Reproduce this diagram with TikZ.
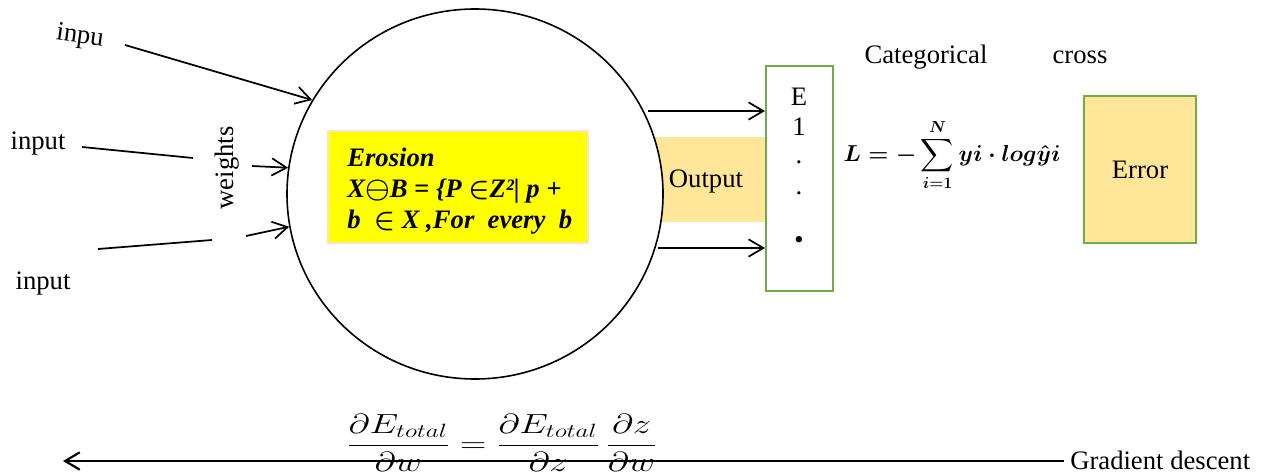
\documentclass[tikz,border=0pt]{standalone}
\usepackage{amsmath}
\usepackage{graphicx}
\usepackage{fontspec}
\setmainfont{Liberation Serif}
\usetikzlibrary{positioning,arrows.meta,shapes.geometric}
\definecolor{boxgreen}{HTML}{70AD47}
\definecolor{boxsand}{HTML}{FFE699}
\definecolor{erosionyellow}{HTML}{FFFF00}
\definecolor{erosionrim}{HTML}{FBE3C6}
\newsavebox{\lossbox}
\newsavebox{\gradbox}

\begin{document}
\sbox{\lossbox}{\fontsize{17.3}{20}\selectfont\mathversion{bold}$\displaystyle L = -\sum_{i=1}^{N} yi\cdot log\hat{y}i$}
\sbox{\gradbox}{\scalebox{1.32}[1.0]{\fontsize{20}{23}\selectfont$\dfrac{\partial E_{total}}{\partial w} = \dfrac{\partial E_{total}}{\partial z}\,\dfrac{\partial z}{\partial w}$}}
\begin{tikzpicture}[x=0.75pt, y=-0.75pt, font=\fontsize{20}{23}\selectfont,
  arr/.style={-{Straight Barb[length=11pt,width=13pt]}, line width=1.3pt},
  plainline/.style={line width=1.3pt},
  greenbox/.style={draw=boxgreen, line width=1.6pt, inner sep=0pt},
  lbl/.style={inner sep=0pt}]
\useasboundingbox (0,0) rectangle (1267,474);
% neuron with the erosion rule
\node[fill=boxsand, minimum width=82.5pt, minimum height=63.75pt, inner sep=0pt] (band) at (710,179.5) {};
\node[ellipse, draw, fill=white, line width=1.2pt, minimum width=282pt, minimum height=277.5pt, inner sep=0pt] (neuron) at (475,194) {};
\node[lbl] (outlbl) at (706,182) {Output};
\node[fill=erosionyellow, draw=erosionrim, line width=1pt, minimum width=195pt, minimum height=84pt] (erosion) at (458,187) {};
\node[lbl, anchor=west, align=left, font=\fontsize{20}{23.25}\selectfont\bfseries\itshape\mathversion{bold}] (erotxt) at (347,191)
  {Erosion\\X$\ominus$B = \{P $\in$Z²| p +\\b \ $\in$ X ,For \ every \ b};
% inputs and weights
\node[lbl, rotate=-8] (in1) at (80,37) {inpu};
\node[lbl] (in2) at (38,144) {input};
\node[lbl] (in3) at (43,284) {input};
\node[lbl, rotate=90] (wt) at (227,168) {weights};
\coordinate (a1) at (125,45);
\coordinate (a2) at (82,147);  \coordinate (b2) at (193,158); \coordinate (c2) at (252,166);
\coordinate (a3) at (98,249);  \coordinate (b3) at (212,240); \coordinate (c3) at (246,236);
\draw[arr] (a1) -- (neuron.150);
\draw[plainline] (a2) -- (b2);
\draw[arr] (c2) -- (neuron.172);
\draw[plainline] (a3) -- (b3);
\draw[arr] (c3) -- (neuron.190);
% output layer
\node[greenbox, minimum width=50.25pt, minimum height=168.75pt] (ebox) at (799.5,178.5) {};
\foreach \t/\y in {E/97,1/127,./162,./193}
  \node[lbl] at (799,\y) {\t};
\node[lbl] (ebullet) at (799,242) {\textbullet};
\coordinate (o1) at (648,111);
\coordinate (o2) at (658,248);
\draw[arr] (o1) -- (o1 -| ebox.west);
\draw[arr] (o2) -- (o2 -| ebox.west);
% loss and error
\node[lbl] (cat) at (926,57) {Categorical};
\node[lbl] (crossword) at (1080,57) {cross};
\node[lbl] (loss) at (952,155) {\usebox{\lossbox}};
\node[greenbox, fill=boxsand, minimum width=84pt, minimum height=110.25pt] (err) at (1140,169.5) {Error};
% backward pass
\node[lbl] (grad) at (502,443) {\usebox{\gradbox}};
\node[lbl, anchor=west] (gd) at (1070,460) {Gradient descent};
\coordinate (gdend) at (63,461);
\draw[arr, line width=1.6pt] (gd.west |- gdend) ++(-6,0) -- (gdend);
\end{tikzpicture}
\end{document}
